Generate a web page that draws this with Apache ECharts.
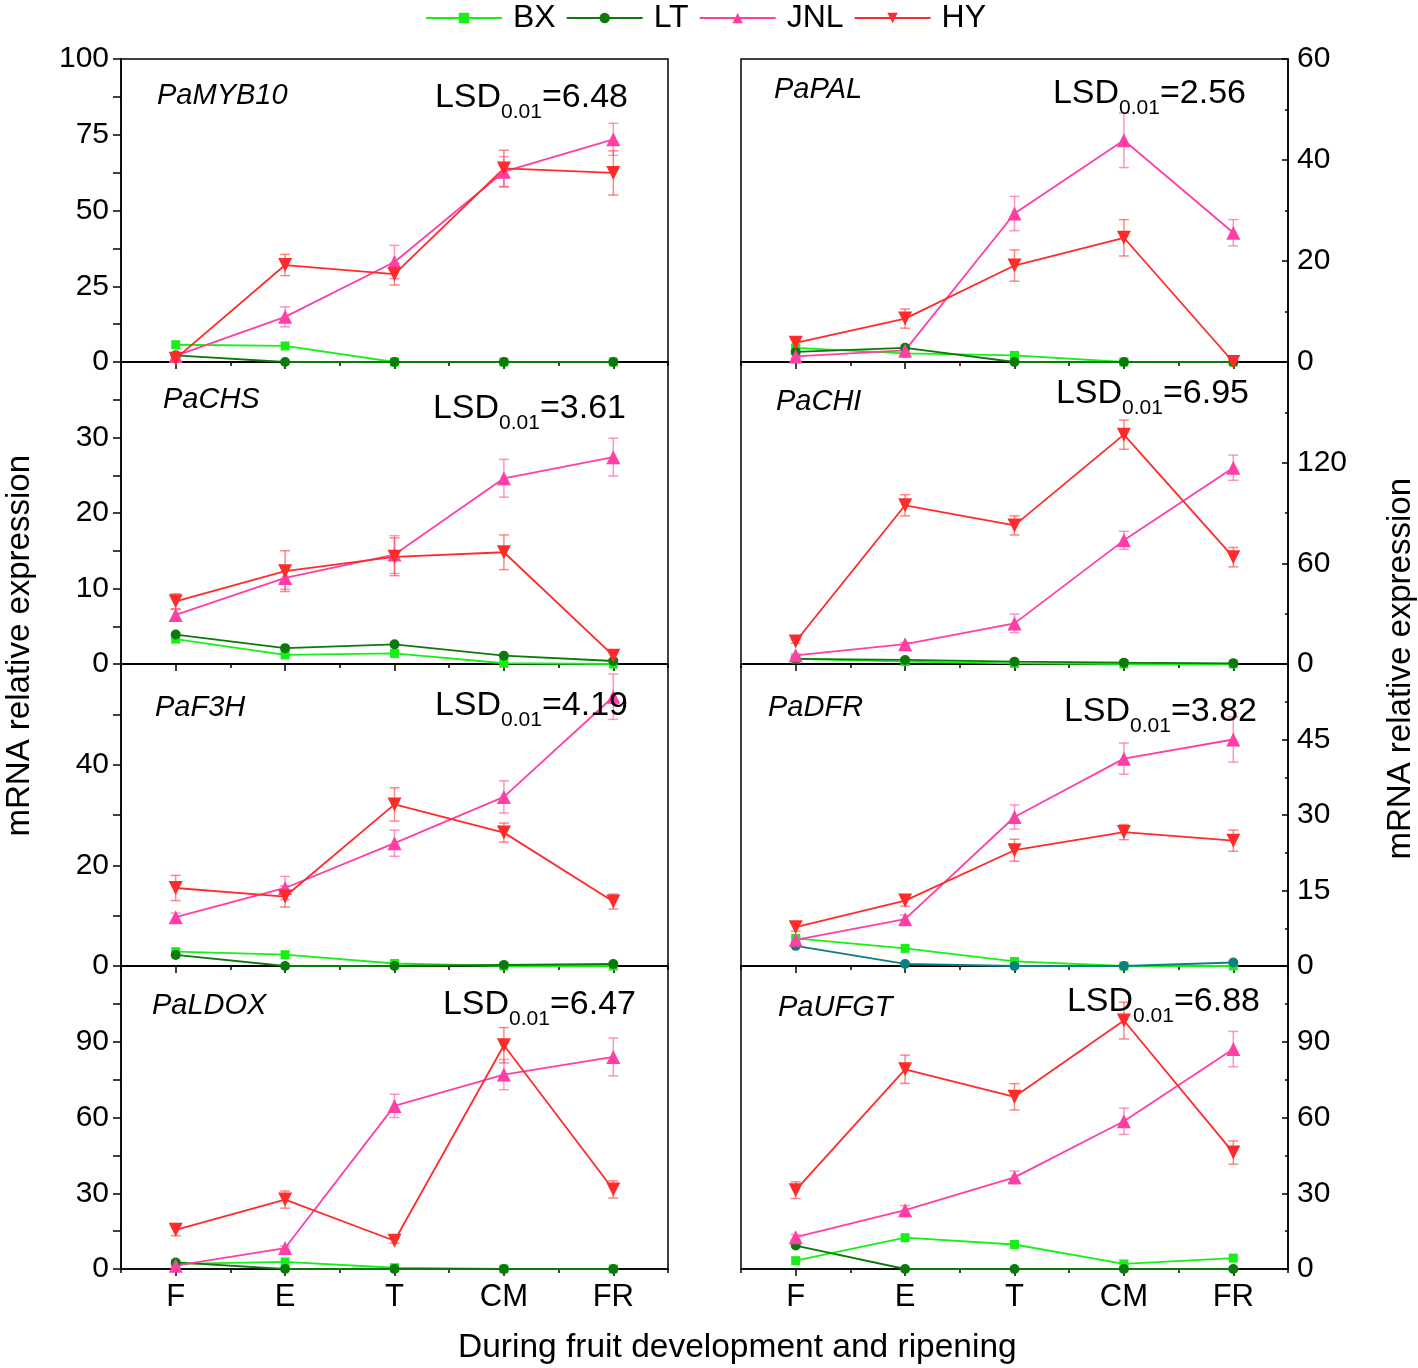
<!DOCTYPE html>
<html>
<head>
<meta charset="utf-8">
<script src="https://cdn.jsdelivr.net/npm/echarts@6/dist/echarts.min.js"></script>
<style>
  html, body { margin: 0; padding: 0; background: #fff; }
  #main { width: 1418px; height: 1368px; }
</style>
</head>
<body>
<div id="main"></div>
<script>
// stages and genes (panels are read row by row: left, right)
var stages = ['F', 'E', 'T', 'CM', 'FR'];
var genes = ['PaMYB10', 'PaPAL', 'PaCHS', 'PaCHI', 'PaF3H', 'PaDFR', 'PaLDOX', 'PaUFGT'];
var lsd = ['6.48', '2.56', '3.61', '6.95', '4.19', '3.82', '6.47', '6.88'];
var yMax = [100, 60, 40, 180, 60, 60, 120, 120];
var yStep = [25, 20, 10, 60, 20, 15, 30, 30];

var BX = [
  [5.7, 5.3, 0, 0, 0],
  [2.8, 1.7, 1.3, 0, 0],
  [3.3, 1.2, 1.4, 0.1, 0],
  [3, 1.4, 0.4, 0, 0],
  [2.85, 2.25, 0.5, 0, 0],
  [5.5, 3.5, 0.9, 0, 0],
  [2, 2.8, 0.5, 0, 0],
  [3.3, 12.4, 9.7, 2, 4.3]
];
var LT = [
  [2.2, 0, 0, 0, 0],
  [2, 2.8, 0, 0, 0],
  [3.9, 2.1, 2.6, 1.1, 0.4],
  [3, 2.4, 1.4, 0.8, 0.4],
  [2.2, 0, 0, 0.2, 0.4],
  [4, 0.4, 0, 0, 0.7],
  [2.6, 0, 0, 0, 0],
  [9.3, 0, 0, 0, 0]
];
var JNL = [
  [2, 14.9, 33, 62.8, 73.5],
  [1.1, 2.3, 29.4, 43.9, 25.6],
  [6.5, 11.4, 14.5, 24.6, 27.4],
  [5.2, 11.8, 24.2, 73.7, 117],
  [9.7, 15.5, 24.4, 33.6, 53.5],
  [5.2, 9.3, 29.6, 41.2, 45],
  [1.3, 8.3, 64.6, 77, 84],
  [12.6, 23.3, 36.3, 58.5, 87.1]
];
var JNLerr = [
  [0.5, 3.3, 5.5, 5, 5.3],
  [0.3, 0.5, 3.4, 5.4, 2.6],
  [0.75, 1.5, 2.5, 2.5, 2.5],
  [1, 1, 5.5, 5.4, 7.5],
  [0.8, 2.3, 2.6, 3.2, 4.5],
  [0.5, 0.8, 2.4, 3.1, 4.5],
  [0.5, 0.8, 4.6, 6, 7.5],
  [1, 1.8, 2.5, 5.2, 7]
];
var HY = [
  [1.1, 32, 29, 63.9, 62.4],
  [3.8, 8.6, 19.1, 24.6, 0],
  [8.3, 12.3, 14.2, 14.8, 1.1],
  [13.4, 94.6, 82.6, 136.7, 63.7],
  [15.5, 13.8, 32.1, 26.5, 12.8],
  [7.7, 13, 23, 26.6, 24.9],
  [15.5, 27.5, 11.2, 88.6, 31.5],
  [31.2, 79.1, 68.2, 98.4, 46.1]
];
var HYerr = [
  [0.5, 3.5, 3.6, 6, 7.3],
  [0.5, 1.9, 3.1, 3.6, 0],
  [1, 2.7, 2.5, 2.3, 0.5],
  [1, 6.3, 5.7, 8.7, 5.8],
  [2.5, 2.1, 3.3, 1.9, 1.5],
  [0.8, 1.1, 2.2, 1.5, 2.1],
  [2.3, 3.4, 1, 7, 3.4],
  [3.3, 5.6, 5.2, 7.3, 4.6]
];

var font = 'Liberation Sans, Arial, sans-serif';
var cBX = '#16f016', cLT = '#0b7a0b', cJNL = '#ff3fa6', cHY = '#ff2b2b';
var rowTop = [59, 362, 664, 966];
var rowH = [303, 302, 302, 303];
// annotation offsets [gene dx, gene dy, lsd right dx, lsd dy]
var notePos = [
  [36, 39, 40, 42], [33, 33, 42, 38],
  [42, 40, 42, 50], [35, 42, 39, 35],
  [34, 46, 40, 45], [27, 46, 31, 51],
  [31, 42, 32, 42], [37, 44, 28, 39]
];

var myChart = echarts.init(document.getElementById('main'));
var grids = [], xAxes = [], yAxes = [], series = [], graphics = [];
var black = {color: '#000', width: 1.5};

function errBars(k, vals, errs, color) {
  var d = vals.map(function (v, i) { return [i, Math.max(0, v - errs[i]), v + errs[i]]; });
  return {
    type: 'custom', xAxisIndex: 2 * k, yAxisIndex: k, z: 1, silent: true,
    data: d, encode: {x: 0, y: [1, 2]},
    renderItem: function (params, api) {
      var lo = api.coord([api.value(0), api.value(1)]);
      var hi = api.coord([api.value(0), api.value(2)]);
      var st = {stroke: color, lineWidth: 1.5};
      return {type: 'group', children: [
        {type: 'line', shape: {x1: lo[0], y1: lo[1], x2: hi[0], y2: hi[1]}, style: st},
        {type: 'line', shape: {x1: lo[0] - 5, y1: lo[1], x2: lo[0] + 5, y2: lo[1]}, style: st},
        {type: 'line', shape: {x1: hi[0] - 5, y1: hi[1], x2: hi[0] + 5, y2: hi[1]}, style: st}
      ]};
    }
  };
}

function lineSeries(k, name, data, color, symbol, size, rot) {
  return {
    type: 'line', name: name, xAxisIndex: 2 * k, yAxisIndex: k, data: data, z: 3,
    symbol: symbol, symbolSize: size, symbolRotate: rot || 0, showAllSymbol: true,
    lineStyle: {color: color, width: 1.8}, itemStyle: {color: color}
  };
}

for (var k = 0; k < 8; k++) {
  var col = k % 2, row = Math.floor(k / 2);
  var gl = col ? 741 : 121;
  grids.push({left: gl, width: 547, top: rowTop[row], height: rowH[row],
    show: true, borderColor: '#000', borderWidth: 1.5, backgroundColor: 'transparent'});
  xAxes.push({
    type: 'category', gridIndex: k, data: stages, boundaryGap: true, position: 'bottom',
    axisLine: {lineStyle: black},
    axisTick: {show: true, alignWithLabel: true, length: 7, lineStyle: black},
    axisLabel: {show: row === 3, fontSize: 31, color: '#000', fontFamily: font, margin: 13}
  });
  xAxes.push({
    type: 'category', gridIndex: k, data: stages, boundaryGap: true, position: 'bottom',
    axisLine: {show: false},
    axisTick: {show: true, alignWithLabel: false, length: 4, lineStyle: black},
    axisLabel: {show: false}
  });
  yAxes.push({
    type: 'value', gridIndex: k, position: col ? 'right' : 'left',
    min: 0, max: yMax[k], interval: yStep[k],
    axisLine: {show: true, lineStyle: black},
    axisTick: {show: true, inside: col === 1, length: col ? 6 : 8, lineStyle: black},
    minorTick: {show: true, splitNumber: 2, length: col ? 3 : 8, lineStyle: black},
    splitLine: {show: false},
    axisLabel: {fontSize: 30, color: '#000', fontFamily: font, margin: col ? 9 : 12,
      showMaxLabel: row === 0}
  });
  var ltColor = genes[k] === 'PaDFR' ? '#0a8080' : cLT;
  series.push(errBars(k, JNL[k], JNLerr[k], 'rgba(255,90,170,0.65)'));
  series.push(errBars(k, HY[k], HYerr[k], 'rgba(255,70,70,0.65)'));
  series.push(lineSeries(k, 'BX', BX[k], cBX, 'rect', 9));
  series.push(lineSeries(k, 'LT', LT[k], ltColor, 'circle', 10));
  series.push(lineSeries(k, 'JNL', JNL[k], cJNL, 'triangle', 14));
  series.push(lineSeries(k, 'HY', HY[k], cHY, 'triangle', 14, 180));

  var p = notePos[k];
  graphics.push({
    type: 'text', left: gl + p[0], top: rowTop[row] + p[1] - 17, z: 10,
    style: {text: genes[k], font: 'italic 29px ' + font, fill: '#000'}
  });
  graphics.push({
    type: 'text', right: 1418 - (gl + 547 - p[2]), top: rowTop[row] + p[3] - 20, z: 10,
    style: {
      text: '{a|LSD}{b|0.01}{a|=' + lsd[k] + '}',
      rich: {
        a: {fontSize: 34, fontFamily: font, fill: '#000', lineHeight: 40, verticalAlign: 'bottom'},
        b: {fontSize: 21, fontFamily: font, fill: '#000', lineHeight: 21, verticalAlign: 'bottom', padding: [0, 0, -8, 0]}
      }
    }
  });
}

graphics.push({
  type: 'text', left: 3, top: 455, rotation: Math.PI / 2, z: 10,
  style: {text: 'mRNA relative expression', font: '33px ' + font, fill: '#000',
    textAlign: 'center', textVerticalAlign: 'top'}
});
graphics.push({
  type: 'text', left: 1384, top: 478, rotation: Math.PI / 2, z: 10,
  style: {text: 'mRNA relative expression', font: '33px ' + font, fill: '#000',
    textAlign: 'center', textVerticalAlign: 'top'}
});
graphics.push({
  type: 'text', left: 458, top: 1331, z: 10,
  style: {text: 'During fruit development and ripening', font: '33.5px ' + font, fill: '#000'}
});

var option = {
  backgroundColor: '#fff',
  animation: false,
  legend: {
    data: ['BX', 'LT', 'JNL', 'HY'], top: -3, left: 420,
    itemWidth: 76, itemHeight: 13, itemGap: 10,
    textStyle: {fontSize: 32, color: '#000', fontFamily: font, padding: [0, 0, 0, 6]}
  },
  grid: grids,
  xAxis: xAxes,
  yAxis: yAxes,
  series: series,
  graphic: graphics
};
myChart.setOption(option);
</script>
</body>
</html>
